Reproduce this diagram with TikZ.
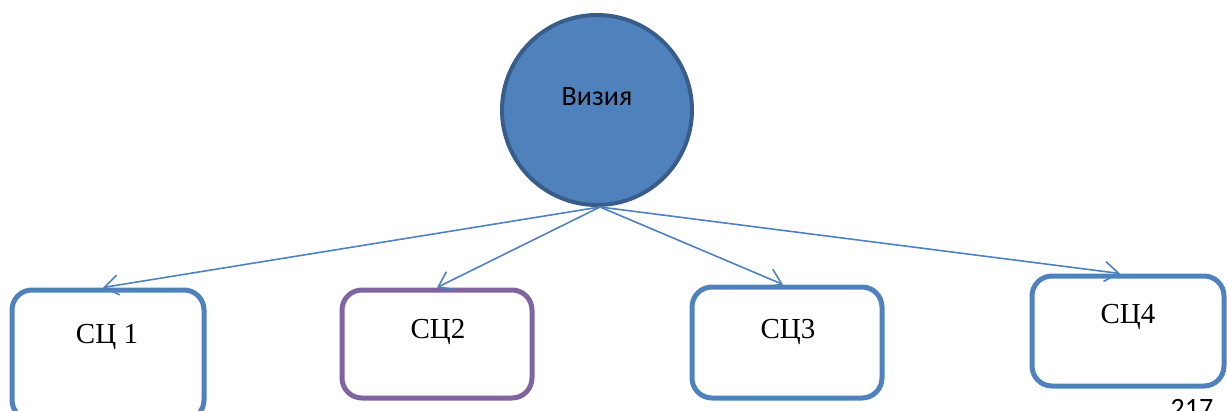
\documentclass[tikz,border=0pt]{standalone}
\usepackage{fontspec}
\setmainfont{Liberation Serif}
\newfontfamily\calib{Carlito}
\usetikzlibrary{arrows.meta,calc}
\definecolor{accblue}{HTML}{4F81BD}
\definecolor{darkblue}{HTML}{385D8A}
\definecolor{accpurple}{HTML}{8064A2}
\tikzset{
  boxnode/.style={draw=accblue, line width=5pt, rounded corners=20pt, minimum width=#1, inner sep=0pt},
  purplebox/.style={boxnode=#1, draw=accpurple},
  boxtext/.style={font=\fontsize{29}{31}\selectfont, inner sep=0pt},
  link/.style={draw=accblue, line width=1.6pt, -{Straight Barb[length=14pt,width=20pt,line width=1.6pt]}},
}
\begin{document}
\begin{tikzpicture}[x=1pt,y=-1pt]
\useasboundingbox (0,0) rectangle (1227,410);
% circle
\node[circle, draw=darkblue, fill=accblue, line width=4pt, minimum size=190pt, inner sep=0pt] (c) at (597,110) {};
\node[font=\calib\fontsize{28}{30}\selectfont, inner sep=0pt] (ct) at (597,97) {Визия};
% boxes
\node[boxnode=192pt, minimum height=130pt] (b1) at (108,355) {};
\node[purplebox=190pt, minimum height=108pt] (b2) at (437,344) {};
\node[boxnode=190pt, minimum height=111pt] (b3) at (787,342.5) {};
\node[boxnode=192pt, minimum height=110pt] (b4) at (1128,331) {};
% texts
\node[boxtext] (t1) at (107,337) {СЦ 1};
\node[boxtext] (t2) at (438,332) {СЦ2};
\node[boxtext] (t3) at (788,332) {СЦ3};
\node[boxtext] (t4) at (1128,317) {СЦ4};
% page number
\node[font=\calib\fontsize{28}{30}\selectfont, inner sep=0pt, anchor=north] (pg) at (1192,399) {217};
% connectors
\coordinate (s) at (600,207);
\draw[link] (s) -- ($(b1.north)+(-5,0)$);
\draw[link] (s) -- (b2.north);
\draw[link] (s) -- ($(b3.north)+(-4,0)$);
\draw[link] (s) -- ($(b4.north)+(-8,0)$);
\end{tikzpicture}
\end{document}
